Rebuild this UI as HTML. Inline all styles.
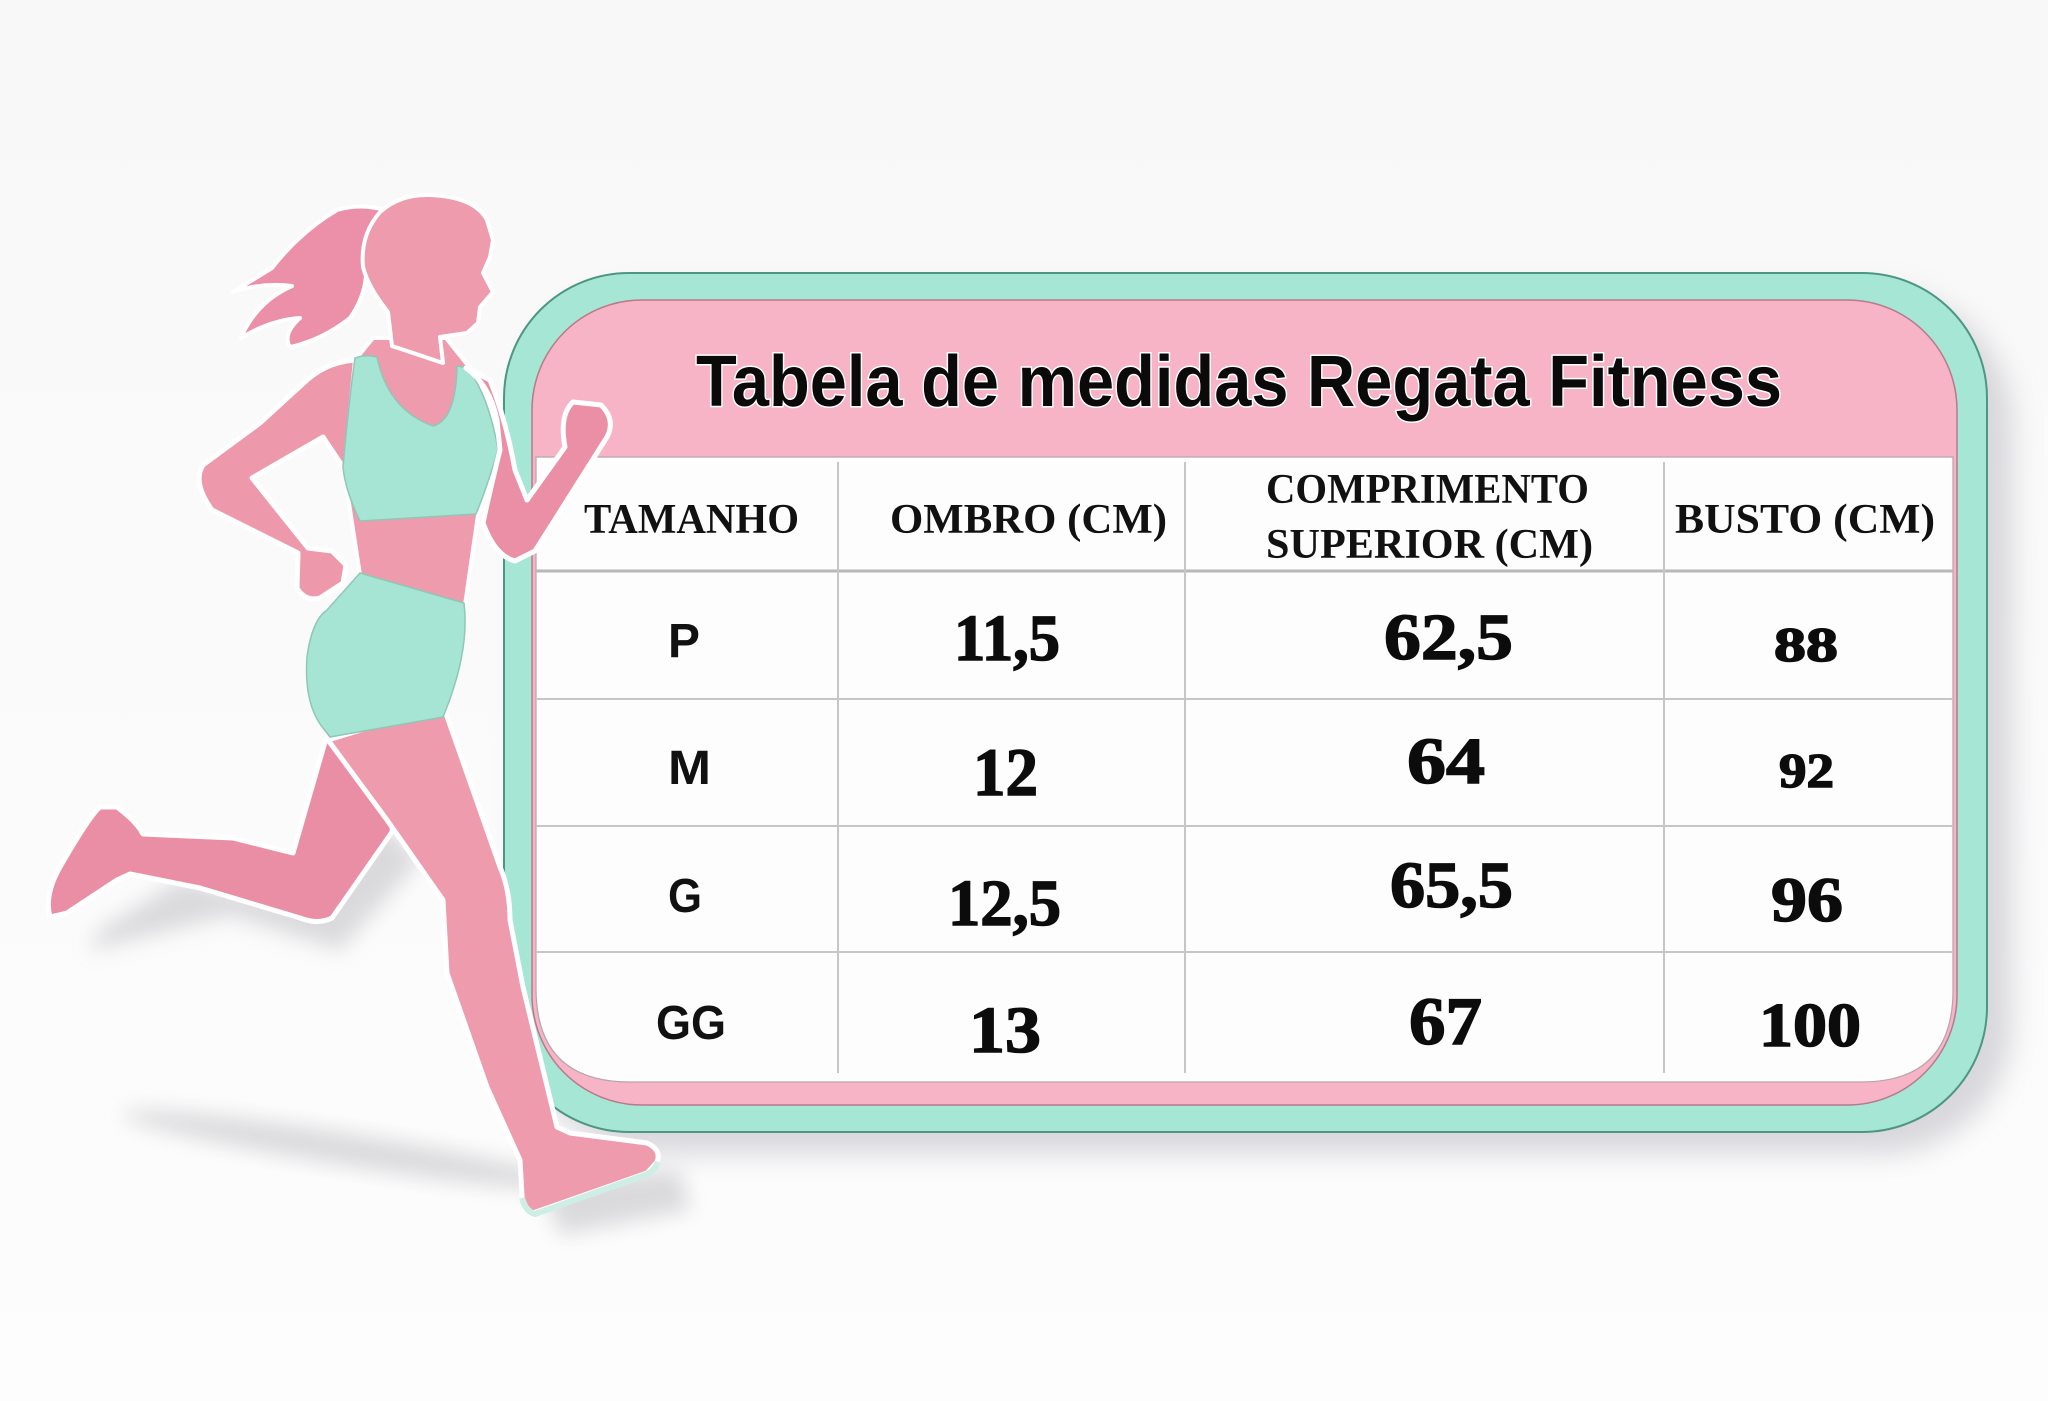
<!DOCTYPE html>
<html><head><meta charset="utf-8"><style>
html,body{margin:0;padding:0;background:#fafafa;}
svg{display:block;}
</style></head><body>
<svg width="2048" height="1401" viewBox="0 0 2048 1401" xmlns="http://www.w3.org/2000/svg">
<defs>
<filter id="blur" x="-20%" y="-20%" width="140%" height="140%"><feGaussianBlur stdDeviation="14"/></filter>
<filter id="blur2" x="-20%" y="-50%" width="140%" height="200%"><feGaussianBlur stdDeviation="10"/></filter>
<linearGradient id="bg" x1="0" y1="0" x2="0" y2="1"><stop offset="0" stop-color="#f8f8f8"/><stop offset="1" stop-color="#fdfdfd"/></linearGradient>
</defs>
<rect width="2048" height="1401" fill="url(#bg)"/>

<!-- box shadow -->
<rect x="522" y="292" width="1490" height="862" rx="130" fill="#cfcfd4" filter="url(#blur)" opacity="0.8"/>
<!-- teal frame -->
<rect x="504" y="273" width="1483" height="859" rx="125" fill="#a6e6d5" stroke="#4d9683" stroke-width="2"/>
<!-- pink -->
<rect x="532" y="300" width="1425" height="805" rx="110" fill="#f8b4c7" stroke="#b67a8b" stroke-width="1.5"/>
<!-- white table -->
<path d="M536,457 L1953,457 L1953,990 Q1953,1082 1861,1082 L630,1082 Q536,1082 536,988 Z" fill="#fdfdfd" stroke="#b9a3aa" stroke-width="1.2"/>
<!-- grid -->
<g stroke="#c6c6c6" stroke-width="2">
<line x1="536" y1="571" x2="1953" y2="571" stroke="#b8b8b8" stroke-width="3"/>
<line x1="536" y1="699" x2="1953" y2="699"/>
<line x1="536" y1="826" x2="1953" y2="826"/>
<line x1="536" y1="952" x2="1953" y2="952"/>
<line x1="838" y1="462" x2="838" y2="1073"/>
<line x1="1185" y1="462" x2="1185" y2="1073"/>
<line x1="1664" y1="462" x2="1664" y2="1073"/>
</g>

<!-- title -->
<text x="696" y="406" font-family="Liberation Sans, sans-serif" font-weight="bold" font-size="72" textLength="1086" lengthAdjust="spacingAndGlyphs" fill="#0a0a0a" stroke="#ffffff" stroke-width="3" paint-order="stroke">Tabela de medidas Regata Fitness</text>

<!-- headers -->
<g font-family="Liberation Serif, serif" font-weight="bold" font-size="42" fill="#111">
<text x="584" y="533" textLength="215" lengthAdjust="spacingAndGlyphs">TAMANHO</text>
<text x="890" y="533" textLength="277" lengthAdjust="spacingAndGlyphs">OMBRO (CM)</text>
<text x="1266" y="503" textLength="323" lengthAdjust="spacingAndGlyphs">COMPRIMENTO</text>
<text x="1266" y="558" textLength="327" lengthAdjust="spacingAndGlyphs">SUPERIOR (CM)</text>
<text x="1675" y="533" textLength="260" lengthAdjust="spacingAndGlyphs">BUSTO (CM)</text>
</g>

<!-- sizes -->
<g font-family="Liberation Sans, sans-serif" font-weight="bold" font-size="48" fill="#111">
<text x="668" y="657" textLength="32" lengthAdjust="spacingAndGlyphs">P</text>
<text x="668" y="784" textLength="43" lengthAdjust="spacingAndGlyphs">M</text>
<text x="668" y="912" textLength="34" lengthAdjust="spacingAndGlyphs">G</text>
<text x="656" y="1039" textLength="70" lengthAdjust="spacingAndGlyphs">GG</text>
</g>

<!-- numbers -->
<g font-family="Liberation Serif, serif" font-weight="bold" fill="#0c0c0c" stroke="#0c0c0c" stroke-width="1.5">
<text x="954" y="660" font-size="66" textLength="106" lengthAdjust="spacingAndGlyphs">11,5</text>
<text x="1384" y="659" font-size="66" textLength="129" lengthAdjust="spacingAndGlyphs">62,5</text>
<text x="1774" y="661" font-size="49" textLength="64" lengthAdjust="spacingAndGlyphs">88</text>
<text x="973" y="795" font-size="68" textLength="65" lengthAdjust="spacingAndGlyphs">12</text>
<text x="1407" y="783" font-size="66" textLength="78" lengthAdjust="spacingAndGlyphs">64</text>
<text x="1779" y="787" font-size="49" textLength="55" lengthAdjust="spacingAndGlyphs">92</text>
<text x="948" y="925" font-size="66" textLength="113" lengthAdjust="spacingAndGlyphs">12,5</text>
<text x="1390" y="907" font-size="66" textLength="123" lengthAdjust="spacingAndGlyphs">65,5</text>
<text x="1771" y="921" font-size="64" textLength="72" lengthAdjust="spacingAndGlyphs">96</text>
<text x="969" y="1052" font-size="66" textLength="72" lengthAdjust="spacingAndGlyphs">13</text>
<text x="1409" y="1044" font-size="68" textLength="73" lengthAdjust="spacingAndGlyphs">67</text>
<text x="1759" y="1046" font-size="62" textLength="102" lengthAdjust="spacingAndGlyphs">100</text>
</g>

<!-- runner shadows -->
<g fill="#cfcfd3" opacity="0.75">
<ellipse cx="350" cy="1150" rx="230" ry="16" transform="rotate(9 350 1150)" filter="url(#blur2)"/>
<path d="M360,800 L290,900 L180,880 L100,930 L90,950 L150,935 L230,915 L340,950 L420,860 Z" filter="url(#blur2)"/>
<path d="M540,1180 L680,1170 L690,1210 L560,1235 Z" filter="url(#blur2)"/>
</g>

<!-- runner -->
<g stroke-linejoin="round">
<!-- back leg -->
<path d="M327,735 L293,853 L233,838 L143,834 Q137,822 117,807 L100,807 Q90,815 60,867 Q44,895 50,917 L67,913 L117,880 L130,874 L200,888 L300,918 Q318,925 332,918 L392,832 L400,760 Z" fill="#ea8ea6" stroke="#ffffff" stroke-width="5"/>
<!-- back arm -->
<path d="M360,360 Q330,360 307,380 L260,423 L203,465 Q192,482 212,510 L298,553 L297,588 Q305,602 320,598 L343,583 L346,565 L332,551 L308,548 L252,478 L323,437 L345,470 Z" fill="#ed98ab" stroke="#ffffff" stroke-width="5"/>
<!-- ponytail -->
<path d="M385,210 Q360,203 337,210 Q300,232 272,268 L233,292 Q262,282 292,286 Q256,302 241,338 Q270,320 300,318 Q282,334 290,347 Q322,340 350,318 Q364,298 366,276 Q366,246 385,220 Z" fill="#ec8fa8" stroke="#ffffff" stroke-width="4"/>
<!-- front leg -->
<path d="M443,705 L500,867 Q510,890 510,920 L523,987 L557,1127 L570,1133 L647,1143 Q662,1150 657,1162 L647,1173 L533,1213 Q522,1206 522,1195 L520,1160 L487,1087 L447,973 L443,900 L387,820 L328,740 Z" fill="#ee9bae" stroke="#ffffff" stroke-width="5"/>
<path d="M522,1198 Q526,1212 535,1214 L648,1174 Q655,1170 658,1162" fill="none" stroke="#cdeee4" stroke-width="6"/>
<!-- torso skin -->
<path d="M373,338 L446,338 L470,368 Q492,395 500,450 L478,515 L465,605 L360,575 L344,470 L355,360 Z" fill="#ee9bae" stroke="#ffffff" stroke-width="4"/>
<!-- bra -->
<path d="M355,358 Q366,354 377,357 Q388,410 433,426 Q456,420 457,366 L468,368 Q490,400 498,450 Q486,490 476,514 L360,521 Q345,490 343,467 Q349,400 355,358 Z" fill="#a6e5d3" stroke="#8fc7b7" stroke-width="1.5"/>
<!-- shorts -->
<path d="M360,573 L464,603 Q470,652 443,717 L330,737 L320,724 Q304,700 307,657 Q312,620 327,610 Z" fill="#a6e5d3" stroke="#8fc7b7" stroke-width="1.5"/>
<!-- front arm -->
<path d="M466,368 Q490,385 497,420 L500,450 Q490,490 483,523 Q495,556 515,561 L535,551 L607,437 Q616,420 601,405 L573,402 Q559,415 565,447 L527,500 L515,470 Q506,420 490,380 Z" fill="#ea8fa5" stroke="#ffffff" stroke-width="5"/>
<!-- head -->
<path d="M380,212 Q400,194 430,195 Q475,197 487,220 L493,240 L490,257 L483,273 L493,292 L480,307 L478,323 L467,333 L440,337 L443,363 L392,346 L388,312 Q368,287 363,267 Q360,235 380,212 Z" fill="#ee9bae" stroke="#ffffff" stroke-width="4"/>
</g>
</svg>
</body></html>
